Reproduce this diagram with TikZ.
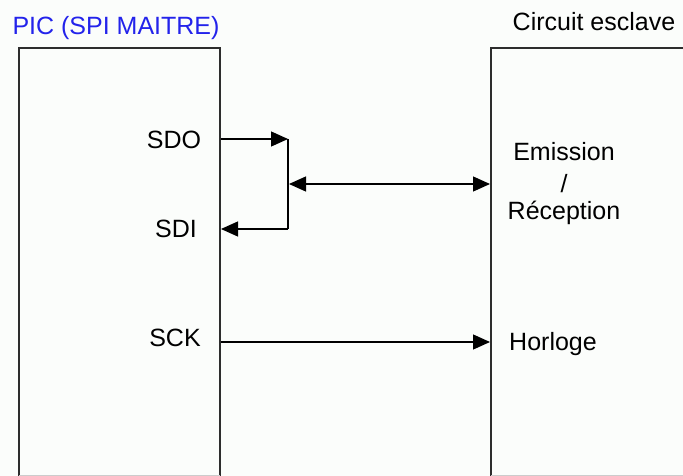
\documentclass[tikz,border=0pt]{standalone}
\usepackage{fontspec}
\setmainfont{Liberation Sans}
\usetikzlibrary{arrows.meta}
\definecolor{bg}{RGB}{251,253,251}
\definecolor{boxline}{RGB}{45,45,45}
\definecolor{picblue}{RGB}{35,35,235}
\tikzset{
  boxedge/.style={draw=boxline,line width=2.2pt},
  wire/.style={draw=black,line width=1.3pt},
  tip/.style={-{Triangle[length=17pt,width=15pt]}},
  lbl/.style={font=\fontsize{25}{33}\selectfont,inner sep=0pt}
}
\begin{document}
\begin{tikzpicture}[x=1pt,y=-1pt]
\fill[bg] (0,0) rectangle (683,476);
\useasboundingbox (0,0) rectangle (683,476);
% boxes
\draw[boxedge] (19,480) -- (19,48) -- (220,48) -- (220,480);
\draw[boxedge] (491,480) -- (491,48) -- (690,48);
\draw[gray!40,line width=0.8pt] (19,475.5) -- (220,475.5) (491,475.5) -- (683,475.5);
% titles
\node[lbl,text=picblue] (pic) at (116,28) {PIC (SPI MAITRE)};
\node[lbl] (esc) at (594,22) {Circuit esclave};
% labels
\node[lbl] (sdo) at (174,140) {SDO};
\node[lbl] (sdi) at (176,229) {SDI};
\node[lbl] (sck) at (175,338) {SCK};
\node[lbl] (em) at (564,152) {Emission};
\node[lbl] (sl) at (564,184) {/};
\node[lbl] (rec) at (564,213) {Réception};
\node[lbl] (hor) at (553,344) {Horloge};
% connector points
\coordinate (sdoA) at (221,139);
\coordinate (jt) at (288,139);
\coordinate (jb) at (288,229);
\coordinate (sdiA) at (221,229);
\coordinate (busL) at (289,184);
\coordinate (busR) at (490,184);
\coordinate (sckA) at (221,342);
\coordinate (sckB) at (490,342);
% connectors
\draw[wire,tip] (sdoA) -- (jt);
\draw[wire] (jt) -- (jb);
\draw[wire,tip] (jb) -- (sdiA);
\draw[wire,{Triangle[length=17pt,width=15pt]}-{Triangle[length=17pt,width=15pt]}] (busL) -- (busR);
\draw[wire,tip] (sckA) -- (sckB);
\end{tikzpicture}
\end{document}
